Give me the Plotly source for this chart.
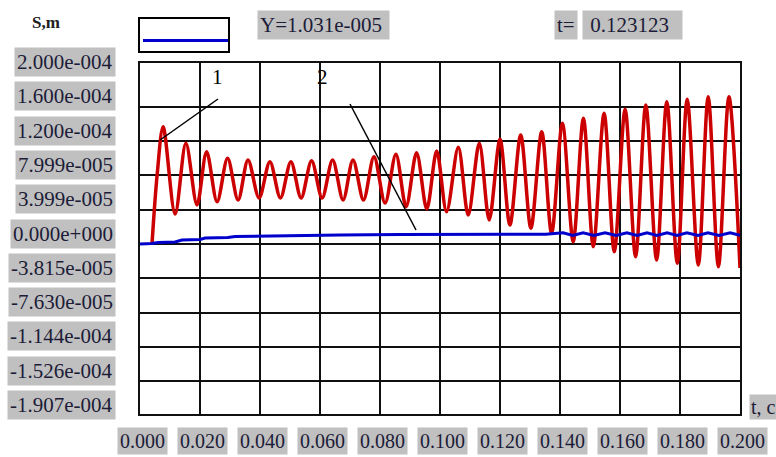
import plotly.graph_objects as go

# ---------------- data ----------------
red_t = [0.0040, 0.0057, 0.0077, 0.0117, 0.0153, 0.0190, 0.0222, 0.0257, 0.0292,
         0.0327, 0.0360, 0.0397, 0.0433, 0.0468, 0.0503, 0.0537, 0.0572, 0.0607, 0.0642,
         0.0677, 0.0710, 0.0745, 0.0780, 0.0817, 0.0853, 0.0887, 0.0922, 0.0956, 0.0989,
         0.1022, 0.1061, 0.1094, 0.1131, 0.1164, 0.1200, 0.1233, 0.1269, 0.1303, 0.1339,
         0.1372, 0.1408, 0.1444, 0.1478, 0.1511, 0.1547, 0.1581, 0.1617, 0.1652, 0.1686,
         0.1722, 0.1756, 0.1791, 0.1824, 0.1861, 0.1894, 0.1928, 0.1963, 0.2000]
red_v = [0.0, 8.0e-5, 1.368e-4, 3.50e-5, 1.174e-4, 4.55e-5, 1.076e-4, 4.93e-5, 9.99e-5,
         5.13e-5, 9.80e-5, 5.36e-5, 9.60e-5, 5.36e-5, 9.60e-5, 5.36e-5, 9.71e-5, 5.36e-5, 9.80e-5,
         5.13e-5, 9.80e-5, 5.13e-5, 1.018e-4, 4.78e-5, 1.046e-4, 4.35e-5, 1.065e-4, 4.08e-5, 1.085e-4,
         3.77e-5, 1.128e-4, 3.38e-5, 1.174e-4, 2.80e-5, 1.221e-4, 2.22e-5, 1.271e-4, 1.83e-5, 1.310e-4,
         1.25e-5, 1.408e-4, 2.7e-6, 1.466e-4, -3.1e-6, 1.524e-4, -9.0e-6, 1.571e-4, -1.48e-5, 1.621e-4,
         -1.87e-5, 1.659e-4, -2.25e-5, 1.687e-4, -2.45e-5, 1.718e-4, -2.65e-5, 1.718e-4, -2.80e-5]

blue_t = [0.0, 0.004, 0.006, 0.0117, 0.014, 0.020, 0.0217, 0.0293, 0.0317, 0.040,
          0.0533, 0.0667, 0.0867, 0.1353, 0.141, 0.1443, 0.1477, 0.1513, 0.155, 0.1587,
          0.1623, 0.1657, 0.169, 0.1723, 0.1757, 0.179, 0.1823, 0.186, 0.1893, 0.193,
          0.1967, 0.200]
blue_v = [0.0, 6e-7, 1.8e-6, 2.3e-6, 4.7e-6, 5.2e-6, 7.0e-6, 7.6e-6, 8.7e-6, 9.3e-6,
          9.9e-6, 1.05e-5, 1.11e-5, 1.13e-5, 1.3e-5, 1.0e-5, 1.3e-5, 1.0e-5, 1.3e-5, 1.0e-5,
          1.3e-5, 1.0e-5, 1.3e-5, 1.0e-5, 1.3e-5, 1.0e-5, 1.3e-5, 1.0e-5, 1.3e-5, 1.0e-5,
          1.3e-5, 1.0e-5]

x_ticks = [0.000, 0.020, 0.040, 0.060, 0.080, 0.100, 0.120, 0.140, 0.160, 0.180, 0.200]
x_tick_labels = ["0.000", "0.020", "0.040", "0.060", "0.080", "0.100",
                 "0.120", "0.140", "0.160", "0.180", "0.200"]
y_grid = [-1.6e-4, -1.2e-4, -8e-5, -4e-5, 0.0, 4e-5, 8e-5, 1.2e-4, 1.6e-4]
y_tick_labels = ["2.000e-004", "1.600e-004", "1.200e-004", "7.999e-005", "3.999e-005",
                 "0.000e+000", "-3.815e-005", "-7.630e-005", "-1.144e-004", "-1.526e-004",
                 "-1.907e-004"]

cursor_y_text = "Y=1.031e-005"
cursor_t_text = "0.123123"

# leader lines for curve labels: (label, text position, line start, line end)
label1 = ("1", (0.0257, 1.95e-4), (0.026, 1.691e-4), (0.0067, 1.213e-4))
label2 = ("2", (0.0607, 1.95e-4), (0.070, 1.633e-4), (0.092, 1.63e-5))

# ---------------- layout helpers ----------------
W, H = 776, 457
L, R, T, B = 140, 740, 63, 414   # plot area in pixels

def px(x):
    return (x - L) / (R - L)

def py(y):
    return (B - y) / (B - T)

SERIF = "Liberation Serif"
TXT = "#1c1c38"
BOX = "#c0c0c0"

fig = go.Figure()
fig.add_trace(go.Scatter(x=red_t, y=red_v, mode="lines",
                         line=dict(color="#cc0000", width=3.5, shape="spline", smoothing=0.9),
                         hoverinfo="skip", showlegend=False))
fig.add_trace(go.Scatter(x=blue_t, y=blue_v, mode="lines",
                         line=dict(color="#0000cc", width=3),
                         hoverinfo="skip", showlegend=False))

annotations = []
shapes = []

# y labels (grey boxes, evenly spaced, slightly above the grid lines)
for i, lab in enumerate(y_tick_labels):
    annotations.append(dict(xref="paper", yref="paper", x=px(116), y=py(62 + 34.3 * i),
                            xanchor="right", yanchor="middle", text=lab, showarrow=False,
                            font=dict(family=SERIF, size=21, color=TXT),
                            bgcolor=BOX, borderpad=2))
# x labels
for v, lab in zip(x_ticks, x_tick_labels):
    annotations.append(dict(xref="x", yref="paper", x=v, y=py(441), xshift=2,
                            xanchor="center", yanchor="middle", text=lab, showarrow=False,
                            font=dict(family=SERIF, size=20, color=TXT),
                            bgcolor=BOX, borderpad=2))

# axis names
annotations.append(dict(xref="paper", yref="paper", x=px(30), y=py(22), xanchor="left",
                        yanchor="middle", text="<b>S,m</b>", showarrow=False,
                        font=dict(family=SERIF, size=17, color="#202020")))
annotations.append(dict(xref="paper", yref="paper", x=px(749), y=py(407), xanchor="left",
                        yanchor="middle", text="t, c", showarrow=False,
                        font=dict(family=SERIF, size=20, color=TXT), bgcolor=BOX, borderpad=1))

# cursor read-outs
annotations.append(dict(xref="paper", yref="paper", x=px(257), y=py(24.5), xanchor="left",
                        yanchor="middle", text=cursor_y_text + " ", showarrow=False,
                        font=dict(family=SERIF, size=21, color=TXT), bgcolor=BOX, borderpad=2))
annotations.append(dict(xref="paper", yref="paper", x=px(554), y=py(24.5), xanchor="left",
                        yanchor="middle", text="t=", showarrow=False,
                        font=dict(family=SERIF, size=21, color=TXT), bgcolor=BOX, borderpad=2))
annotations.append(dict(xref="paper", yref="paper", x=px(582), y=py(24.5), xanchor="left",
                        yanchor="middle", text=" " + cursor_t_text + "  ", showarrow=False,
                        font=dict(family=SERIF, size=21, color=TXT), bgcolor=BOX, borderpad=2))

# curve labels with leader lines
for lab, pos, p0, p1 in (label1, label2):
    annotations.append(dict(xref="x", yref="y", x=pos[0], y=pos[1], text=lab,
                            showarrow=False, font=dict(family=SERIF, size=21, color="#000000")))
    shapes.append(dict(type="line", xref="x", yref="y", x0=p0[0], y0=p0[1], x1=p1[0], y1=p1[1],
                       line=dict(color="#000000", width=1.5)))

# legend box
shapes.append(dict(type="rect", xref="paper", yref="paper", x0=px(139), x1=px(229),
                   y0=py(52), y1=py(18), line=dict(color="#000000", width=2),
                   fillcolor="white"))
shapes.append(dict(type="line", xref="paper", yref="paper", x0=px(143), x1=px(228),
                   y0=py(40.5), y1=py(40.5), line=dict(color="#0000cc", width=3)))

fig.update_layout(
    width=W, height=H,
    margin=dict(l=L, r=W - R, t=T, b=H - B, pad=0),
    paper_bgcolor="white", plot_bgcolor="white",
    xaxis=dict(range=[0, 0.2], tickvals=x_ticks, showticklabels=False, ticks="",
               showgrid=True, gridcolor="#101010", gridwidth=2, zeroline=False,
               showline=True, linecolor="#101010", linewidth=2, mirror=True),
    yaxis=dict(range=[-1.983e-4, 2.111e-4], tickvals=y_grid, showticklabels=False, ticks="",
               showgrid=True, gridcolor="#101010", gridwidth=2, zeroline=False,
               showline=True, linecolor="#101010", linewidth=2, mirror=True),
    annotations=annotations, shapes=shapes,
)

fig.write_html("out.html", config={"displayModeBar": False},
               post_script="document.body.style.margin='0';document.body.style.overflow='hidden';")
